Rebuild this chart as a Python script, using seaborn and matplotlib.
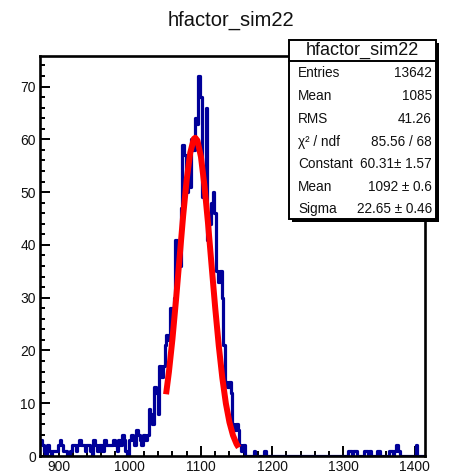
import numpy as np
import pandas as pd
import matplotlib
matplotlib.use("Agg")
import matplotlib.pyplot as plt
import seaborn as sns
from matplotlib.ticker import MultipleLocator
from matplotlib.patches import Rectangle
from matplotlib.lines import Line2D

# ---------------- data ----------------
title = "hfactor_sim22"
x_start = 874.0
bin_width = 2.5
counts_low = [3, 2, 1, 0, 2, 1, 0, 1, 1, 1,
              2, 3, 2, 1, 1, 0, 0, 1, 2, 2,
              1, 2, 3, 2, 2, 1, 2, 2, 1, 0,
              3, 2, 1, 2, 2, 1, 3, 2, 2, 2,
              2, 3, 2, 1, 3, 2, 4, 3, 1, 0,
              3, 4, 3, 2, 5, 4, 3, 2]
counts_peak = [4, 3, 4, 9, 8, 6, 13, 12, 8, 17,
               15, 17, 21, 23, 22, 28, 27, 30, 41, 39,
               36, 47, 59, 57, 50, 53, 51, 60, 58, 64,
               63, 72, 68, 49, 52, 66, 41, 44, 48, 50,
               46, 35, 33, 35, 30, 21, 14, 13, 14, 12,
               6, 5, 6, 5, 2, 1, 2, 0]
counts_high = [0, 0, 0, 0, 1, 0, 0, 0, 0, 0,
               1, 0, 0, 0, 0, 0, 0, 0, 0, 0,
               0, 0, 0, 0, 0, 0, 0, 0, 0, 0,
               0, 0, 0, 0, 0, 0, 0, 0, 0, 0,
               0, 0, 0, 0, 0, 0, 0, 0, 0, 0,
               0, 0, 0, 0, 0, 0, 0, 1, 1, 0,
               1, 1, 0, 0, 0, 0, 1, 1, 0, 1,
               0, 0, 0, 1, 1, 0, 0, 0, 0, 0,
               1, 1, 0, 1, 2, 1, 0, 0, 0, 0,
               0, 0, 0, 0, 0, 2, 0, 0, 0, 0]
counts = counts_low + counts_peak + counts_high

# fitted gaussian curve
fit_x = [1051, 1055, 1060, 1065, 1070, 1075, 1080, 1085, 1090, 1092, 1095, 1100, 1105,
         1110, 1115, 1120, 1125, 1130, 1135, 1140, 1145, 1150, 1153]
fit_y = [11.7, 15.9, 22.2, 29.6, 37.6, 45.5, 52.4, 57.5, 60.1, 60.3, 59.8, 56.7, 51.1,
         44.0, 36.0, 28.1, 20.9, 14.8, 9.95, 6.39, 3.90, 2.27, 1.61]
stat_labels = ["Entries", "Mean", "RMS", "\u03c7\u00b2 / ndf", "Constant", "Mean", "Sigma"]
stat_values = ["13642", "1085", "41.26", "85.56 / 68", "60.31\u00b1 1.57", "1092 \u00b1 0.6", "22.65 \u00b1 0.46"]

n = len(counts)
x_end = x_start + bin_width * n
centers = x_start + bin_width * (np.arange(n) + 0.5)
df = pd.DataFrame({"x": centers, "w": counts})
fit_df = pd.DataFrame({"x": fit_x, "y": fit_y})

# ---------------- style ----------------
sns.set_theme(style="white")
plt.rcParams["font.family"] = ["Liberation Sans", "DejaVu Sans"]

W, H = 463, 476
fig = plt.figure(figsize=(W / 100, H / 100), dpi=100)
fig.patch.set_facecolor("white")
ax = fig.add_axes([40 / W, (H - 456) / H, 385 / W, 400 / H])

sns.histplot(data=df, x="x", weights="w", binwidth=bin_width, binrange=(x_start, x_end),
             element="step", fill=False, color="#000099", linewidth=2.3, ax=ax)
sns.lineplot(data=fit_df, x="x", y="y", sort=False, color="#ff0000", linewidth=4.3,
             legend=False, ax=ax, solid_capstyle="butt")

ax.set_xlim(874, 1414.6)
ax.set_ylim(0, 75.8)
ax.set_xlabel("")
ax.set_ylabel("")

for s in ax.spines.values():
    s.set_visible(True)
    s.set_color("black")
    s.set_linewidth(1.9)
    s.set_zorder(5)

ax.xaxis.set_major_locator(MultipleLocator(100))
ax.xaxis.set_minor_locator(MultipleLocator(20))
ax.yaxis.set_major_locator(MultipleLocator(10))
ax.yaxis.set_minor_locator(MultipleLocator(2))
ax.tick_params(axis="both", which="major", direction="in", length=7, width=1.4,
               colors="black", labelsize=10, top=False, right=False, bottom=True, left=True)
ax.tick_params(axis="both", which="minor", direction="in", length=3.6, width=1.4,
               colors="black", top=False, right=False, bottom=True, left=True)
ax.tick_params(axis="x", which="major", pad=3)
ax.tick_params(axis="y", which="major", pad=3)
for lab in ax.get_xticklabels() + ax.get_yticklabels():
    lab.set_color("#111111")

# title
fig.text(231 / W, 1 - 20 / H, title, ha="center", va="center", fontsize=14.5, color="#111111")

# stats box (pixel coordinates -> figure fraction)
def fx(px):
    return px / W

def fy(py):
    return 1 - py / H

bx0, bx1, by0, by1 = 289, 436, 40, 219
shadow = Rectangle((fx(bx0 + 3), fy(by1 + 3)), fx(bx1 - bx0), (by1 - by0) / H,
                   transform=fig.transFigure, facecolor="black", edgecolor="none", zorder=10)
box = Rectangle((fx(bx0), fy(by1)), fx(bx1 - bx0), (by1 - by0) / H,
                transform=fig.transFigure, facecolor="white", edgecolor="black",
                linewidth=1.4, zorder=11)
fig.patches.extend([shadow, box])
fig.lines.append(Line2D([fx(bx0), fx(bx1)], [fy(61), fy(61)], transform=fig.transFigure,
                        color="black", linewidth=1.4, zorder=12))
fig.text(fx(362), fy(50), title, ha="center", va="center", fontsize=13, color="#111111", zorder=13)

row_y = [73, 96, 119, 142, 164, 187, 209]
for lab, val, yy in zip(stat_labels, stat_values, row_y):
    fig.text(fx(298), fy(yy), lab, ha="left", va="center", fontsize=9.8, color="#111111", zorder=13)
    fig.text(fx(432), fy(yy), val, ha="right", va="center", fontsize=9.8, color="#111111", zorder=13)

fig.savefig("out.png", dpi=100)
